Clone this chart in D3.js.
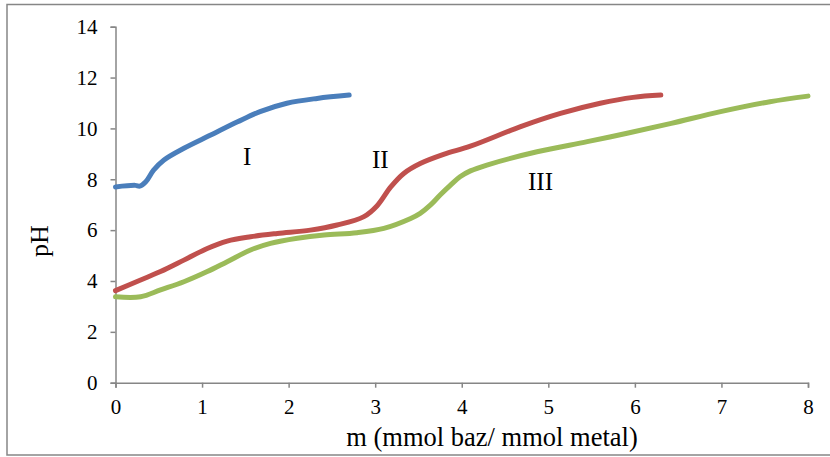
<!DOCTYPE html>
<html><head><meta charset="utf-8">
<script src="https://cdn.jsdelivr.net/npm/d3@7"></script>
<style>body{margin:0;background:#fff}svg{display:block}</style>
</head><body>
<script>
const xTicks = [0,1,2,3,4,5,6,7,8];
const yTicks = [0,2,4,6,8,10,12,14];
const seriesI_m  = [0,0.23,0.28,0.35,0.44,0.56,0.79,1.10,1.41,1.67,1.98,2.33,2.70];
const seriesI_pH = [7.70,7.76,7.73,7.90,8.36,8.76,9.22,9.74,10.26,10.66,10.99,11.18,11.31];
const seriesII_m  = [0,0.29,0.52,0.79,1.06,1.29,1.56,1.87,2.25,2.56,2.87,3.02,3.18,3.33,3.52,3.79,4.10,4.68,5.14,5.60,5.98,6.30];
const seriesII_pH = [3.62,4.04,4.37,4.82,5.28,5.57,5.74,5.87,6.00,6.20,6.53,6.95,7.70,8.23,8.62,8.98,9.30,10.07,10.59,10.99,11.22,11.31];
const seriesIII_m  = [0,0.29,0.52,0.79,1.06,1.29,1.56,1.79,2.10,2.41,2.79,3.10,3.41,3.52,3.64,3.75,3.87,3.98,4.10,4.29,4.87,5.45,5.91,6.42,6.99,7.56,8.0];
const seriesIII_pH = [3.38,3.38,3.65,3.97,4.37,4.76,5.22,5.48,5.68,5.81,5.90,6.07,6.46,6.66,6.99,7.38,7.77,8.10,8.33,8.56,9.08,9.48,9.81,10.20,10.66,11.05,11.27];
const seriesNames = ["I","II","III"];
const colors = ["#4A7EBB","#C0504D","#9BBB59"];
const labelPos = [[1.52,8.56],[3.06,8.44],[4.91,7.57]];

const W=830,H=457;
const svg=d3.select("body").append("svg").attr("width",W).attr("height",H);
svg.append("rect").attr("x",7).attr("y",4.5).attr("width",840).attr("height",450.5)
  .attr("fill","#fff").attr("stroke","#868686").attr("stroke-width",1.5);

const x=d3.scaleLinear().domain([0,8]).range([115.5,808]);
const y=d3.scaleLinear().domain([0,14]).range([382.7,26.7]);
const font="'Liberation Serif','Times New Roman',serif";

const gx=svg.append("g").attr("transform",`translate(0,${y(0)})`)
  .call(d3.axisBottom(x).tickValues(xTicks).tickSize(5).tickPadding(11).tickFormat(d3.format("d")));
const gy=svg.append("g").attr("transform",`translate(${x(0)},0)`)
  .call(d3.axisLeft(y).tickValues(yTicks).tickSize(5).tickPadding(13).tickFormat(d3.format("d")));
[gx,gy].forEach(g=>{
  g.select(".domain").attr("stroke","#868686").attr("stroke-width",1.5);
  g.selectAll(".tick line").attr("stroke","#868686").attr("stroke-width",1.5);
  g.selectAll(".tick text").attr("fill","#000").style("font-family",font).style("font-size","21px");
});

const sets=[[seriesI_m,seriesI_pH],[seriesII_m,seriesII_pH],[seriesIII_m,seriesIII_pH]];
const line=d3.line().x(d=>x(d[0])).y(d=>y(d[1])).curve(d3.curveCatmullRom.alpha(0.5));
sets.forEach((s,i)=>{
  const pts=s[0].map((m,j)=>[m,s[1][j]]);
  svg.append("path").datum(pts).attr("d",line).attr("fill","none")
    .attr("stroke",colors[i]).attr("stroke-width",5).attr("stroke-linecap","round").attr("stroke-linejoin","round");
});
seriesNames.forEach((n,i)=>{
  svg.append("text").attr("x",x(labelPos[i][0])).attr("y",y(labelPos[i][1]))
    .attr("text-anchor","middle").style("font-family",font).style("font-size","25px").text(n);
});
svg.append("text").attr("x",492).attr("y",446).attr("text-anchor","middle")
  .style("font-family",font).style("font-size","26.5px").text("m (mmol baz/ mmol metal)");
svg.append("text").attr("transform",`translate(48,241) rotate(-90)`).attr("text-anchor","middle")
  .style("font-family",font).style("font-size","26px").text("pH");
</script>
</body></html>
